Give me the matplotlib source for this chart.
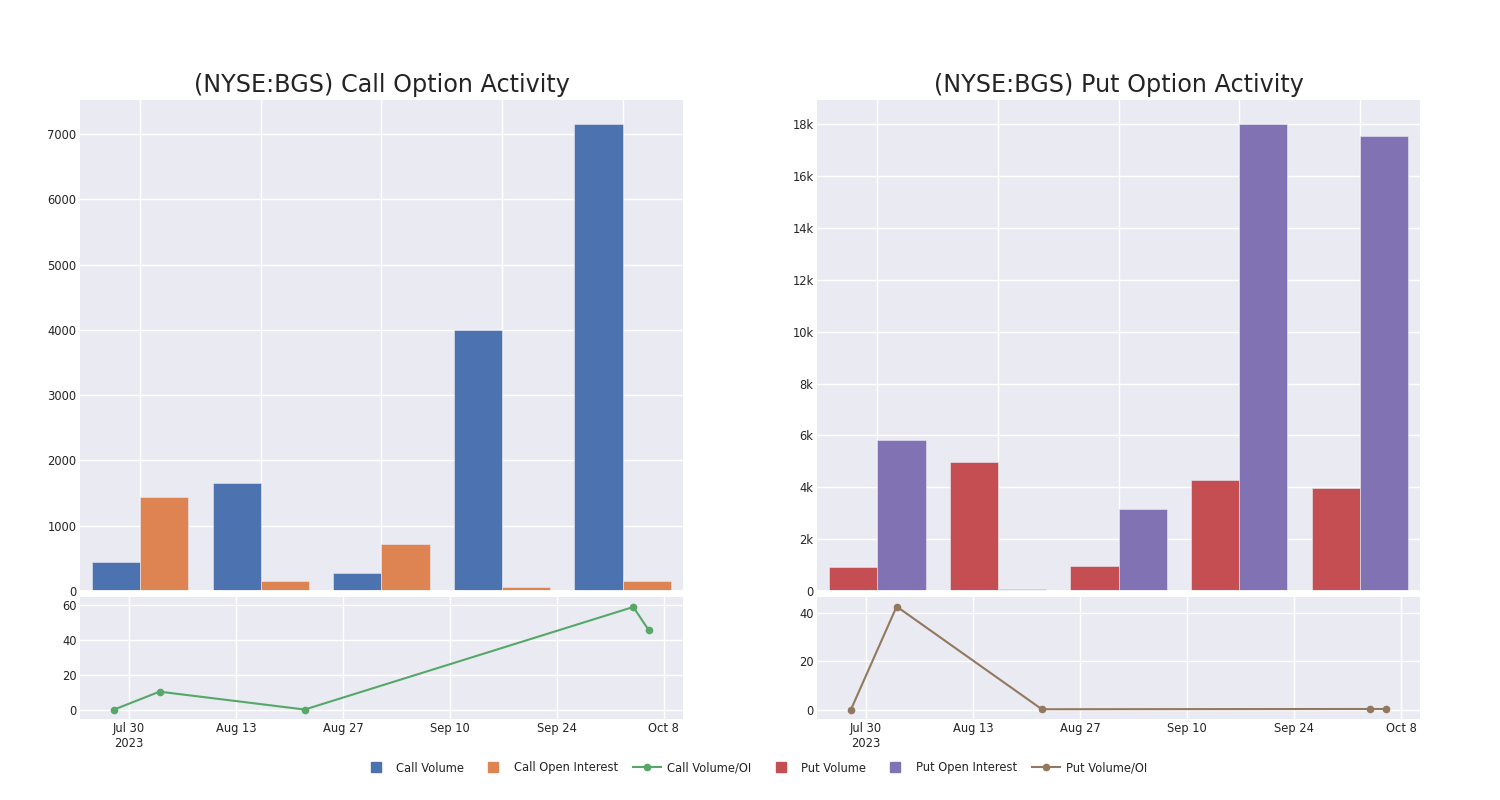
import matplotlib
matplotlib.use("Agg")
import matplotlib.pyplot as plt
import matplotlib.dates as mdates
from matplotlib.lines import Line2D
from datetime import datetime

# dados
n_grupos = 5
call_volume = [444, 1661, 282, 4000, 7150]
call_open_interest = [1441, 153, 727, 61, 149]
put_volume = [940, 4980, 980, 4270, 3975]
put_open_interest = [5830, 90, 3180, 18000, 17540]

datas = ["2023-07-28", "2023-08-03", "2023-08-22", "2023-10-04", "2023-10-06"]
call_vol_oi = [0.3, 10.6, 0.4, 58.9, 45.8]
put_vol_oi = [0.15, 42.5, 0.4, 0.5, 0.5]

call_yticks = [0, 1000, 2000, 3000, 4000, 5000, 6000, 7000]
call_yticklabels = ["0", "1000", "2000", "3000", "4000", "5000", "6000", "7000"]
put_yticks = [0, 2000, 4000, 6000, 8000, 10000, 12000, 14000, 16000, 18000]
put_yticklabels = ["0", "2k", "4k", "6k", "8k", "10k", "12k", "14k", "16k", "18k"]
call_ratio_ticks = [0, 20, 40, 60]
put_ratio_ticks = [0, 20, 40]
tick_datas = ["2023-07-30", "2023-08-13", "2023-08-27", "2023-09-10", "2023-09-24", "2023-10-08"]
tick_labels = ["Jul 30\n2023", "Aug 13", "Aug 27", "Sep 10", "Sep 24", "Oct 8"]

# cores (tema seaborn do plotly)
BG = "#EAEAF2"
AZUL, LARANJA, VERDE = "#4C72B0", "#DD8452", "#55A868"
VERMELHO, ROXO, MARROM = "#C44E52", "#8172B3", "#937860"
TEXTO = "#242424"

plt.rcParams["font.family"] = ["DejaVu Sans"]
plt.rcParams["text.color"] = TEXTO
plt.rcParams["xtick.color"] = TEXTO
plt.rcParams["ytick.color"] = TEXTO

fig = plt.figure(figsize=(15, 8), dpi=100)

datas_dt = [datetime.strptime(d, "%Y-%m-%d") for d in datas]
ticks_dt = [datetime.strptime(d, "%Y-%m-%d") for d in tick_datas]
xmin_data = mdates.date2num(datetime(2023, 7, 23, 14))
xmax_data = mdates.date2num(datetime(2023, 10, 10, 12))


def estilo(ax):
    ax.set_facecolor(BG)
    for s in ax.spines.values():
        s.set_visible(False)
    ax.grid(True, color="white", linewidth=1)
    ax.set_axisbelow(True)
    ax.tick_params(length=0, labelsize=8.3, pad=2.5)


def painel(x0, titulo, vol, oi, c1, c2, yticks, ylabels, ymax,
           ratio, cor_ratio, rticks, rlim):
    ax = fig.add_axes([x0, 0.26125, 0.402, 0.61375])
    estilo(ax)
    pos = list(range(n_grupos))
    ax.bar([p - 0.2 for p in pos], vol, width=0.4, color=c1,
           edgecolor=BG, linewidth=0.4)
    ax.bar([p + 0.2 for p in pos], oi, width=0.4, color=c2,
           edgecolor=BG, linewidth=0.4)
    ax.axhline(0, color="white", linewidth=2)
    ax.set_xlim(-0.5, 4.5)
    ax.set_xticks(pos)
    ax.set_xticklabels([])
    ax.set_ylim(0, ymax)
    ax.set_yticks(yticks)
    ax.set_yticklabels(ylabels)
    ax.set_title(titulo, fontsize=17.2, pad=6)

    ax2 = fig.add_axes([x0, 0.10125, 0.402, 0.1525])
    estilo(ax2)
    ax2.plot(datas_dt, ratio, color=cor_ratio, linewidth=1.5,
             marker="o", markersize=4.5)
    ax2.set_xlim(xmin_data, xmax_data)
    ax2.set_xticks(ticks_dt)
    ax2.set_xticklabels(tick_labels)
    ax2.set_ylim(*rlim)
    ax2.set_yticks(rticks)
    return ax, ax2


painel(0.0533, "(NYSE:BGS) Call Option Activity", call_volume, call_open_interest,
       AZUL, LARANJA, call_yticks, call_yticklabels, 7521,
       call_vol_oi, VERDE, call_ratio_ticks, (-5, 64.6))
painel(0.5447, "(NYSE:BGS) Put Option Activity", put_volume, put_open_interest,
       VERMELHO, ROXO, put_yticks, put_yticklabels, 18940,
       put_vol_oi, MARROM, put_ratio_ticks, (-3.6, 46.4))

handles = [
    Line2D([], [], linestyle="none", marker="s", markersize=6.7, color=AZUL),
    Line2D([], [], linestyle="none", marker="s", markersize=6.7, color=LARANJA),
    Line2D([], [], color=VERDE, linewidth=1.5, marker="o", markersize=4.5),
    Line2D([], [], linestyle="none", marker="s", markersize=6.7, color=VERMELHO),
    Line2D([], [], linestyle="none", marker="s", markersize=6.7, color=ROXO),
    Line2D([], [], color=MARROM, linewidth=1.5, marker="o", markersize=4.5),
]
rotulos = ["Call Volume", "Call Open Interest", "Call Volume/OI",
           "Put Volume", "Put Open Interest", "Put Volume/OI"]
fig.legend(handles, rotulos, loc="center", bbox_to_anchor=(0.503, 0.04),
           ncol=6, frameon=False, fontsize=8.3, handlelength=2.45,
           handletextpad=0.55, columnspacing=1.3)

fig.savefig("out.png", dpi=100, facecolor="white")
